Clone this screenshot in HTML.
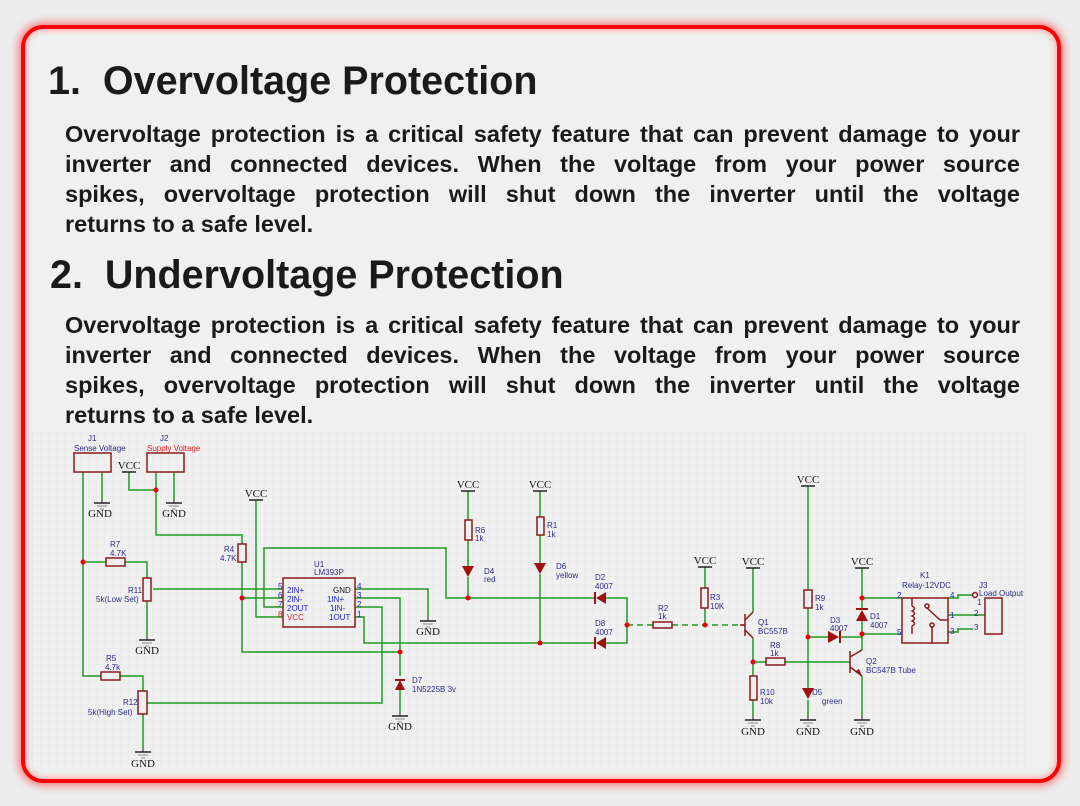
<!DOCTYPE html>
<html><head><meta charset="utf-8"><style>
html,body{margin:0;padding:0}
body{width:1080px;height:806px;background:#ececec;position:relative;overflow:hidden;font-family:"Liberation Sans",Arial,sans-serif}
.frame{position:absolute;left:21px;top:25px;width:1032px;height:750px;border:4px solid #ff0000;border-radius:22px;box-shadow:0 0 8px 3px rgba(255,60,60,.6),inset 0 0 6px 2px rgba(255,80,80,.4);background:#f0f0f0}
h1{position:absolute;margin:0;font-size:39.5px;font-weight:bold;color:#1a1a1a;white-space:nowrap;line-height:46px}
.p{position:absolute;left:65px;width:955px;font-size:23.5px;line-height:30px;font-weight:bold;color:#1a1a1a}
.p div{text-align:justify;text-align-last:justify;white-space:nowrap}
.p div.l{text-align-last:left}
svg{position:absolute;left:0;top:0}
</style></head><body>
<div class="frame"></div>
<h1 style="left:48px;top:58px">1.&nbsp; Overvoltage Protection</h1>
<div class="p" style="top:119px"><div>Overvoltage protection is a critical safety feature that can prevent damage to your</div><div>inverter and connected devices. When the voltage from your power source</div><div>spikes, overvoltage protection will shut down the inverter until the voltage</div><div class="l">returns to a safe level.</div></div>
<h1 style="left:50px;top:252px">2.&nbsp; Undervoltage Protection</h1>
<div class="p" style="top:310px"><div>Overvoltage protection is a critical safety feature that can prevent damage to your</div><div>inverter and connected devices. When the voltage from your power source</div><div>spikes, overvoltage protection will shut down the inverter until the voltage</div><div class="l">returns to a safe level.</div></div>
<svg width="1080" height="806" viewBox="0 0 1080 806">
<defs>
<pattern id="g" width="8" height="8" patternUnits="userSpaceOnUse"><path d="M8 0H0V8" fill="none" stroke="#dcdcdc" stroke-width="0.6"/></pattern>
<g id="gnd"><line x1="0" y1="-4" x2="0" y2="0" stroke="#222"/><line x1="-8" y1="0" x2="8" y2="0" stroke="#222" stroke-width="1.5"/><line x1="-5" y1="3" x2="5" y2="3" stroke="#888"/><line x1="-2" y1="6" x2="2" y2="6" stroke="#888"/></g>
</defs>
<rect x="30" y="432" width="1000" height="338" fill="url(#g)" opacity="0.8"/>
<g fill="none" stroke="#1f9a1f" stroke-width="1.5">
<path d="M83 472V676H101M120 676H143V691"/>
<path d="M102 472V499"/><path d="M174 472V499"/>
<path d="M129 472V490H156M156 472V535H242V544"/>
<path d="M83 562H106M125 562H147V578"/>
<path d="M147 601V636"/><path d="M143 714V748"/>
<path d="M153 589H283"/>
<path d="M242 562V652H400"/><path d="M242 598H283"/>
<path d="M256 500V617H283"/>
<path d="M283 607H264V548H446V598H595"/>
<path d="M355 589H428V617"/>
<path d="M355 598H400V676M400 690V712"/>
<path d="M147 703H382V607H355"/>
<path d="M355 617H364V643H595"/>
<path d="M606 598H627V643H606"/>
<path d="M468 491V520M468 540V566M468 577V598"/>
<path d="M540 491V517M540 535V563M540 574V643"/>
<path d="M627 625H653M672 625H745" stroke-dasharray="6 4"/>
<path d="M705 567V588M705 608V625"/>
<path d="M753 568V612M753 638V676M753 700V716"/>
<path d="M753 662H766M785 662H850"/>
<path d="M808 486V590M808 608V688M808 700V716"/>
<path d="M808 637H828M840 637H862"/>
<path d="M862 568V609M862 620V650M862 676V716"/>
<path d="M862 598H902M862 634H902"/>
<path d="M948 598H958V595H973M948 615H985M948 632H958V629H973"/>
</g>
<g fill="none" stroke="#8b1a1a" stroke-width="1.5">
<rect x="74" y="453" width="37" height="19"/><rect x="147" y="453" width="37" height="19"/>
<rect x="238" y="544" width="8" height="18"/>
<rect x="106" y="558" width="19" height="8"/><rect x="143" y="578" width="8" height="23"/>
<rect x="101" y="672" width="19" height="8"/><rect x="138" y="691" width="9" height="23"/>
<rect x="283" y="578" width="72" height="49"/>
<rect x="465" y="520" width="7" height="20"/><rect x="537" y="517" width="7" height="18"/>
<rect x="653" y="622" width="19" height="6"/><rect x="701" y="588" width="7" height="20"/>
<rect x="750" y="676" width="7" height="24"/><rect x="766" y="658" width="19" height="7"/>
<rect x="804" y="590" width="8" height="18"/>
<rect x="902" y="598" width="46" height="45"/><rect x="985" y="598" width="17" height="36"/>
<path d="M745 614V636M745 625H740M745 620L753 612M745 630L753 638"/>
<path d="M850 651V673M850 657L862 650M850 667L862 676"/>
<path d="M912 598V606M912 626V634M912 606q5 2.5 0 5q5 2.5 0 5q5 2.5 0 5q5 2.5 0 5"/>
<path d="M927 608L940 620M940 620H948M932 627V643"/>
<circle cx="927" cy="606" r="2"/><circle cx="932" cy="625" r="2"/><circle cx="975" cy="595" r="2.5"/>
</g>
<g fill="#a01010">
<path d="M395 690L405 690L400 680Z"/><path d="M395 680H405" stroke="#a01010" stroke-width="2"/>
<path d="M462 566H474L468 577Z"/><path d="M534 563H546L540 574Z"/>
<path d="M606 592V604L596 598Z"/><rect x="594" y="592" width="2" height="12"/>
<path d="M606 637V649L596 643Z"/><rect x="594" y="637" width="2" height="12"/>
<path d="M828 631V643L839 637Z"/><rect x="839" y="631" width="2" height="12"/>
<path d="M856 621H868L862 610Z"/><rect x="856" y="608" width="12" height="2"/>
<path d="M802 688H814L808 699Z"/>
<path d="M862 676L856 671L859 669Z"/>
<circle cx="83" cy="562" r="2.5" fill="#e00"/><circle cx="156" cy="490" r="2.5" fill="#e00"/>
<circle cx="242" cy="598" r="2.5" fill="#e00"/><circle cx="400" cy="652" r="2.5" fill="#e00"/>
<circle cx="468" cy="598" r="2.5" fill="#e00"/><circle cx="540" cy="643" r="2.5" fill="#e00"/>
<circle cx="627" cy="625" r="2.5" fill="#e00"/><circle cx="705" cy="625" r="2.5" fill="#e00"/>
<circle cx="753" cy="662" r="2.5" fill="#e00"/><circle cx="808" cy="637" r="2.5" fill="#e00"/>
<circle cx="862" cy="598" r="2.5" fill="#e00"/><circle cx="862" cy="634" r="2.5" fill="#e00"/>
</g>
<g stroke="#222" stroke-width="1.5">
<path d="M122 472H136M249 500H263M461 491H475M533 491H547M698 567H712M746 568H760M801 486H815M855 568H869"/>
</g>
<use href="#gnd" x="102" y="503"/><use href="#gnd" x="174" y="503"/><use href="#gnd" x="147" y="640"/>
<use href="#gnd" x="143" y="752"/><use href="#gnd" x="428" y="621"/><use href="#gnd" x="400" y="716"/>
<use href="#gnd" x="753" y="720"/><use href="#gnd" x="808" y="720"/><use href="#gnd" x="862" y="720"/>
<g font-family="Liberation Serif,serif" font-size="11" fill="#111" text-anchor="middle">
<text x="129" y="469">VCC</text><text x="256" y="497">VCC</text><text x="468" y="488">VCC</text><text x="540" y="488">VCC</text>
<text x="705" y="564">VCC</text><text x="753" y="565">VCC</text><text x="808" y="483">VCC</text><text x="862" y="565">VCC</text>
<text x="100" y="517">GND</text><text x="174" y="517">GND</text><text x="147" y="654">GND</text><text x="143" y="767">GND</text>
<text x="428" y="635">GND</text><text x="400" y="730">GND</text><text x="753" y="735">GND</text><text x="808" y="735">GND</text><text x="862" y="735">GND</text>
</g>
<g font-family="Liberation Sans,sans-serif" font-size="8" fill="#2a2a8a">
<text x="88" y="441">J1</text><text x="74" y="451">Sense Voltage</text>
<text x="160" y="441">J2</text><text x="147" y="451" fill="#e02020">Supply Voltage</text>
<text x="224" y="552">R4</text><text x="220" y="561">4.7K</text>
<text x="110" y="547">R7</text><text x="110" y="556">4.7K</text>
<text x="128" y="593">R11</text><text x="96" y="602">5k(Low Set)</text>
<text x="106" y="661">R5</text><text x="105" y="670">4.7k</text>
<text x="123" y="705">R12</text><text x="88" y="715">5k(High Set)</text>
<text x="314" y="567">U1</text><text x="314" y="575">LM393P</text>
<text x="287" y="593" fill="#1a1ad0">2IN+</text><text x="287" y="602" fill="#1a1ad0">2IN-</text><text x="287" y="611" fill="#1a1ad0">2OUT</text><text x="287" y="620" fill="#e02020">VCC</text>
<text x="333" y="593" fill="#111">GND</text><text x="327" y="602" fill="#1a1ad0">1IN+</text><text x="330" y="611" fill="#1a1ad0">1IN-</text><text x="329" y="620" fill="#1a1ad0">1OUT</text>
<text x="278" y="589" fill="#1a1ad0">5</text><text x="278" y="598" fill="#1a1ad0">6</text><text x="278" y="607" fill="#1a1ad0">7</text><text x="278" y="617" fill="#e02020">8</text>
<text x="357" y="589" fill="#1a1ad0">4</text><text x="357" y="598" fill="#1a1ad0">3</text><text x="357" y="607" fill="#1a1ad0">2</text><text x="357" y="617" fill="#1a1ad0">1</text>
<text x="412" y="683">D7</text><text x="412" y="692">1N5225B 3v</text>
<text x="475" y="533">R6</text><text x="475" y="541">1k</text><text x="484" y="574">D4</text><text x="484" y="582">red</text>
<text x="547" y="528">R1</text><text x="547" y="537">1k</text><text x="556" y="569">D6</text><text x="556" y="578">yellow</text>
<text x="595" y="580">D2</text><text x="595" y="589">4007</text><text x="595" y="626">D8</text><text x="595" y="635">4007</text>
<text x="658" y="611">R2</text><text x="658" y="619">1k</text><text x="710" y="600">R3</text><text x="710" y="609">10K</text>
<text x="758" y="625">Q1</text><text x="758" y="634">BC557B</text>
<text x="770" y="648">R8</text><text x="770" y="656">1k</text>
<text x="760" y="695">R10</text><text x="760" y="704">10k</text>
<text x="815" y="601">R9</text><text x="815" y="610">1k</text>
<text x="830" y="623">D3</text><text x="830" y="631">4007</text>
<text x="870" y="619">D1</text><text x="870" y="628">4007</text>
<text x="866" y="664">Q2</text><text x="866" y="673">BC547B Tube</text>
<text x="812" y="695">D5</text><text x="822" y="704">green</text>
<text x="920" y="578">K1</text><text x="902" y="588">Relay-12VDC</text>
<text x="979" y="588">J3</text><text x="979" y="596">Load Output</text>
<text x="897" y="598" fill="#1a1ad0">2</text><text x="897" y="635" fill="#1a1ad0">5</text>
<text x="950" y="598" fill="#1a1ad0">4</text><text x="950" y="618" fill="#1a1ad0">1</text><text x="950" y="634" fill="#1a1ad0">3</text>
<text x="977" y="605">1</text><text x="974" y="616">2</text><text x="974" y="630">3</text>
</g>
</svg>
</body></html>
